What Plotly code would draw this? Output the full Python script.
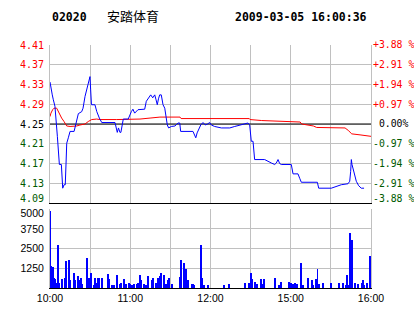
import plotly.graph_objects as go

# ---------------- data ----------------
stock_code = "02020"
stock_name = "安踏体育"
timestamp = "2009-03-05 16:00:36"
prev_close = 4.25

# minute offsets from 10:00 (trading minutes, 240 in total)
price_minutes = [0, 0.7, 1.7, 2.5, 3.7, 5.5, 6.2, 7.0, 8.5, 9.0, 9.5, 10.5, 11.4, 12.0, 12.5, 13.7,
                 15.0, 18.0, 19.4, 21.2, 23.7, 24.7, 26.2, 27.4, 28.6, 29.4, 29.9, 30.4, 31.0, 33.6,
                 35.0, 36.9, 38.7, 48.6, 49.6, 50.3, 51.2, 52.3, 53.0, 54.4, 54.8, 58.5, 59.6, 60.8,
                 62.0, 63.3, 65.8, 70.8, 72.0, 73.8, 75.3, 76.8, 78.3, 79.3, 80.2, 81.1, 82.0, 83.2,
                 84.5, 85.8, 87.0, 87.7, 88.7, 90.7, 93.5, 95.7, 97.0, 97.7, 106.9, 108.2, 109.0,
                 110.0, 111.4, 112.7, 114.4, 116.1, 117.8, 119.4, 120.6, 123.1, 128.1, 134.4, 138.1,
                 141.8, 145.0, 148.0, 149.3, 150.0, 150.5, 151.8, 152.5, 153.0, 160.5, 163.0, 165.5,
                 168.0, 169.2, 170.5, 171.7, 172.9, 180.4, 181.7, 185.4, 186.7, 187.9, 199.9, 200.9,
                 210.3, 214.0, 217.8, 222.8, 224.1, 224.8, 225.3, 225.8, 226.5, 227.8, 229.0, 230.8,
                 232.7, 234.8]
price_values = [4.335, 4.321, 4.309, 4.299, 4.286, 4.225, 4.192, 4.168, 4.168, 4.144, 4.120, 4.127,
                4.127, 4.171, 4.211, 4.222, 4.235, 4.235, 4.249, 4.271, 4.275, 4.282, 4.306, 4.319,
                4.336, 4.346, 4.346, 4.319, 4.289, 4.289, 4.275, 4.262, 4.253, 4.253, 4.238, 4.233,
                4.242, 4.233, 4.233, 4.255, 4.260, 4.260, 4.269, 4.275, 4.280, 4.272, 4.279, 4.280,
                4.296, 4.303, 4.309, 4.303, 4.309, 4.299, 4.289, 4.301, 4.309, 4.309, 4.289, 4.282,
                4.265, 4.248, 4.242, 4.245, 4.246, 4.252, 4.252, 4.235, 4.235, 4.225, 4.222, 4.232,
                4.242, 4.248, 4.253, 4.248, 4.250, 4.253, 4.248, 4.245, 4.242, 4.242, 4.245, 4.248,
                4.250, 4.252, 4.248, 4.232, 4.215, 4.215, 4.198, 4.178, 4.178, 4.174, 4.171, 4.168,
                4.171, 4.178, 4.170, 4.168, 4.168, 4.149, 4.149, 4.140, 4.132, 4.132, 4.120, 4.120,
                4.124, 4.127, 4.129, 4.134, 4.154, 4.178, 4.168, 4.161, 4.144, 4.134, 4.125, 4.120,
                4.120]

avg_minutes = [0, 0.7, 2.0, 3.0, 5.0, 6.2, 7.5, 8.7, 10.5, 12.5, 15.0, 17.4, 20.0, 22.4, 26.2, 28.6,
               31.2, 34.9, 37.4, 49.9, 67.3, 74.8, 82.2, 97.2, 98.0, 149.0, 149.5, 158.3, 172.0,
               187.0, 188.2, 196.9, 199.4, 211.8, 220.6, 223.0, 225.6, 231.8, 236.8, 240.0]
avg_values = [4.265, 4.272, 4.279, 4.282, 4.282, 4.275, 4.267, 4.262, 4.255, 4.246, 4.245, 4.245,
              4.246, 4.248, 4.250, 4.255, 4.259, 4.260, 4.259, 4.259, 4.260, 4.262, 4.264, 4.264,
              4.261, 4.261, 4.259, 4.257, 4.255, 4.254, 4.250, 4.246, 4.243, 4.242, 4.242, 4.237,
              4.230, 4.228, 4.227, 4.225]

vol_minutes = [0, 1, 2, 3, 4, 5, 6, 7, 9, 11, 12, 14, 15, 18, 19, 21, 22, 23, 24, 28, 29, 30, 31,
               33, 34, 35, 36, 37, 39, 43, 44, 46, 48, 50, 52, 53, 55, 57, 59, 60, 61, 62, 63, 65,
               66, 67, 68, 70, 72, 73, 76, 77, 79, 81, 82, 83, 85, 86, 87, 88, 89, 91, 97, 98, 100,
               102, 103, 106, 107, 108, 113, 114, 115, 118, 130, 134, 146, 149, 150, 151, 153, 154,
               155, 158, 159, 160, 168, 171, 173, 179, 180, 182, 183, 185, 188, 189, 193, 196, 197,
               199, 200, 201, 204, 210, 216, 219, 221, 222, 223, 224, 225, 226, 228, 230, 233, 234,
               235, 237, 239]
vol_values = [4900, 1370, 1310, 590, 530, 275, 2740, 275, 530, 590, 1690, 1790, 460, 950, 460, 740,
              460, 630, 210, 1860, 630, 460, 950, 170, 630, 320, 590, 590, 590, 890, 530, 170, 170,
              800, 210, 320, 530, 250, 320, 210, 170, 170, 210, 210, 320, 800, 460, 210, 170, 740,
              460, 590, 275, 590, 740, 910, 780, 210, 210, 460, 590, 210, 675, 1790, 1540, 1220, 460,
              210, 250, 150, 2700, 590, 150, 150, 150, 210, 275, 275, 950, 530, 380, 210, 210, 530,
              210, 530, 630, 170, 380, 380, 275, 210, 275, 210, 1580, 150, 630, 460, 150, 530, 1160,
              210, 320, 320, 275, 275, 150, 780, 150, 3480, 740, 3060, 320, 210, 320, 460, 150, 275,
              2000]

time_ticks = [0, 60, 120, 180, 240]
time_labels = ["10:00", "11:00", "12:00", "15:00", "16:00"]
half_hours = [30, 90, 150, 210]

price_grid = [4.41, 4.37, 4.33, 4.29, 4.25, 4.21, 4.17, 4.13, 4.09]
price_label_pos = [4.41, 4.37, 4.33, 4.29, 4.25, 4.21, 4.17, 4.13, 4.099]
price_labels = ["4.41", "4.37", "4.33", "4.29", "4.25", "4.21", "4.17", "4.13", "4.09"]
pct_labels = ["+3.88 %", "+2.91 %", "+1.94 %", "+0.97 %", " 0.00%",
              "-0.97 %", "-1.94 %", "-2.91 %", "-3.88 %"]

vol_grid = [1250, 2500, 3750, 5000]
vol_label_pos = [1250, 2500, 3750, 4750]
vol_labels = ["1250", "2500", "3750", "5000"]

# ---------------- styling ----------------
RED = "#ff0000"
GREEN = "#005a00"
BLACK = "#000000"
GRID = "#c0c0c0"
MONO = "DejaVu Sans Mono"
SANS = "Liberation Sans"


def colored(labels, center_index):
    out = []
    for i, t in enumerate(labels):
        c = RED if i < center_index else (BLACK if i == center_index else GREEN)
        out.append(f"<span style='color:{c}'>{t.replace(' ', '&nbsp;')}</span>")
    return out


fig = go.Figure()

fig.add_trace(go.Bar(x=vol_minutes, y=vol_values, width=0.75,
                     marker=dict(color="#0000ff", line=dict(width=0)),
                     xaxis="x", yaxis="y", showlegend=False, hoverinfo="skip"))
fig.add_trace(go.Scatter(x=[time_ticks[0], time_ticks[-1]], y=[prev_close, prev_close],
                         mode="lines", line=dict(color=BLACK, width=1),
                         xaxis="x2", yaxis="y2", showlegend=False, hoverinfo="skip"))
fig.add_trace(go.Scatter(x=avg_minutes, y=avg_values, mode="lines",
                         line=dict(color=RED, width=1), xaxis="x2", yaxis="y2",
                         showlegend=False))
fig.add_trace(go.Scatter(x=price_minutes, y=price_values, mode="lines",
                         line=dict(color="#0000ff", width=1), xaxis="x2", yaxis="y2",
                         showlegend=False))
fig.add_trace(go.Scatter(x=[None], y=[None], xaxis="x2", yaxis="y3", showlegend=False))

xr = [0, 240]
pr = [4.09, 4.41]

fig.update_layout(
    width=414, height=314,
    margin=dict(l=50, r=43, t=45, b=26, pad=0, autoexpand=False),
    paper_bgcolor="white", plot_bgcolor="white",
    bargap=0,
    xaxis=dict(domain=[0, 1], anchor="y", range=xr, tickmode="array", automargin=False,
               tickvals=time_ticks, ticktext=time_labels, showgrid=True,
               gridcolor=GRID, gridwidth=1, zeroline=False,
               showline=True, linecolor=BLACK, linewidth=1, ticks="",
               tickfont=dict(family=SANS, size=10.5, color=BLACK),
               minor=dict(tickvals=half_hours, showgrid=True, gridcolor=GRID, gridwidth=1, ticks="")),
    yaxis=dict(domain=[0, 0.324], anchor="x", range=[0, 5000], tickmode="array",
               automargin=False,
               tickvals=vol_label_pos, ticktext=vol_labels, showgrid=False,
               zeroline=False, showline=True, linecolor=GRID, linewidth=1,
               mirror=True, ticks="", ticklabelstandoff=3,
               tickfont=dict(family=SANS, size=10.5, color=BLACK),
               minor=dict(tickvals=vol_grid, showgrid=True, gridcolor=GRID, gridwidth=1, ticks="")),
    xaxis2=dict(domain=[0, 1], anchor="y2", range=xr, showticklabels=False, automargin=False,
                tickmode="array", tickvals=time_ticks, showgrid=True, gridcolor=GRID,
                gridwidth=1, zeroline=False, showline=True, linecolor=BLACK, linewidth=1,
                ticks="",
                minor=dict(tickvals=half_hours, showgrid=True, gridcolor=GRID, gridwidth=1, ticks="")),
    yaxis2=dict(domain=[0.3498, 1], anchor="x2", range=pr, tickmode="array", automargin=False,
                tickvals=price_label_pos, ticktext=colored(price_labels, 4),
                showgrid=False, zeroline=False, showline=True, linecolor=GRID,
                linewidth=1, mirror=True, ticks="", ticklabelstandoff=3,
                tickfont=dict(family=MONO, size=10, color=BLACK),
                minor=dict(tickvals=price_grid, showgrid=True, gridcolor=GRID, gridwidth=1, ticks="")),
    yaxis3=dict(domain=[0.3498, 1], anchor="x2", overlaying="y2", side="right",
                automargin=False,
                range=pr, tickmode="array", tickvals=price_label_pos,
                ticktext=colored(pct_labels, 4), showgrid=False, zeroline=False,
                showline=False, ticks="", ticklabelstandoff=1,
                tickfont=dict(family=MONO, size=9.8, color=BLACK)),
    annotations=[
        dict(text=f"<b>{stock_code}</b>", xref="paper", yref="paper", x=0, y=1.117,
             xanchor="left", yanchor="middle", showarrow=False,
             font=dict(family=MONO, size=11.5, color=BLACK)),
        dict(text=stock_name, xref="paper", yref="paper", x=0.171, y=1.12,
             xanchor="left", yanchor="middle", showarrow=False,
             font=dict(family="Noto Sans CJK SC", size=13, color=BLACK)),
        dict(text=f"<b>{timestamp}</b>", xref="paper", yref="paper", x=0.994, y=1.117,
             xanchor="right", yanchor="middle", showarrow=False,
             font=dict(family=MONO, size=11.5, color=BLACK)),
    ],
)

fig.write_html("out.html")
